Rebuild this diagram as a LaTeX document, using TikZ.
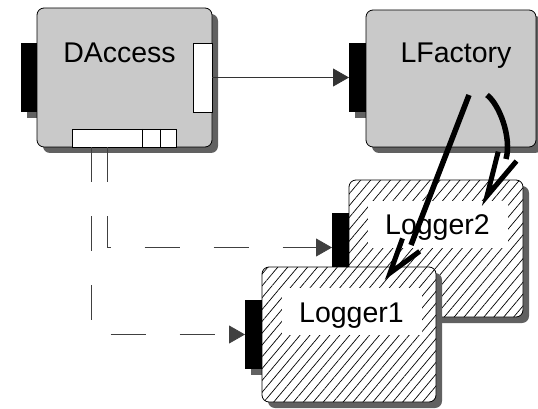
\documentclass[tikz,border=0pt]{standalone}
\usepackage{fontspec}
\setmainfont{Liberation Sans}
\usepackage{tikz}
\usetikzlibrary{positioning, arrows.meta, shadows, patterns.meta, calc}

\begin{document}
\begin{tikzpicture}[
    x=1pt, y=-1pt,
    every node/.style={font=\fontsize{28.5}{32}\selectfont, inner sep=0pt, outer sep=0pt},
    boxshadow/.style={drop shadow={shadow xshift=6pt, shadow yshift=-6pt,
                      fill=black!62, opacity=1}},
    box/.style={draw, line width=0.8pt, rounded corners=7pt, boxshadow,
                minimum width=175pt, minimum height=139pt},
    solid box/.style={box, fill=black!21},
    hatch box/.style={box, preaction={fill=white},
                      pattern={Lines[angle=50, distance=7.6pt, line width=0.7pt]}},
    port/.style={fill=black, boxshadow, minimum width=17pt, minimum height=69pt},
    slot/.style={draw, line width=0.6pt, fill=white},
    tag/.style={fill=white, minimum width=140pt, minimum height=47pt,
                text height=24pt, text depth=3pt},
    arr/.style={-{Triangle[length=16pt, width=18pt]}, line width=0.8pt, black!80},
    dash arr/.style={arr, black!75, dash pattern=on 35pt off 34pt},
    thick arr/.style={line width=5.5pt},
    barb/.style={line width=5pt}
]
\useasboundingbox (0,0) rectangle (538,409);

\node[port] (dacc-in) at (29,77.5) {};
\node[solid box] (dacc) at (124.5,77.5) {};
\node[slot, minimum width=19pt, minimum height=69pt] (dacc-out) at (202.5,77.5) {};
\node[slot, minimum width=104pt, minimum height=18pt] (dacc-bus) at (124,138) {};
\draw[line width=0.6pt] ([xshift=70pt]dacc-bus.north west) -- ([xshift=70pt]dacc-bus.south west)
    ([xshift=88pt]dacc-bus.north west) -- ([xshift=88pt]dacc-bus.south west);
\node[anchor=base] (dacc-name) at (119.5,63) {DAccess};

\node[port] (lfac-in) at (357.5,77.5) {};
\node[solid box, minimum width=170pt, minimum height=137pt] (lfac) at (451,78.5) {};
\node[anchor=base] (lfac-name) at (456,63) {LFactory};

\node[port] (log2-in) at (340.5,247.5) {};
\node[hatch box, minimum width=174pt, minimum height=137pt] (log2) at (436,248.5) {};
\node[tag] (log2-name) at (437.5,224) {Logger2};

\node[port] (log1-in) at (253.5,334.5) {};
\node[hatch box, minimum width=174pt, minimum height=135pt] (log1) at (349,334.5) {};
\node[tag] (log1-name) at (351.5,311.5) {Logger1};

\draw[arr] (dacc-out.east) -- (lfac-in.west);
\draw[dash arr] ([xshift=19pt]dacc-bus.south west) |- (log1-in.west);
\draw[dash arr] ([xshift=35pt]dacc-bus.south west) |- (log2-in.west);

\coordinate (lfac-a) at (469,95);
\coordinate (log1-mouth) at (411,245);
\coordinate (log1-tip) at (390,273);
\draw[thick arr] (lfac-a) -- (log1-mouth);
\draw[barb] ($(log1-tip)!1.05!17:(log1-mouth)$) -- (log1-tip) -- ($(log1-tip)!1.05!-17:(log1-mouth)$);

\coordinate (lfac-b) at (487,95);
\coordinate (log2-mouth) at (506,159);
\coordinate (log2-tip) at (487,196);
\draw[thick arr] (lfac-b) .. controls (499,104) and (512,137) .. (log2-mouth);
\draw[barb] ($(log2-tip)!1.1!13:(log2-mouth)$) -- (log2-tip) -- ($(log2-tip)!1.1!-13:(log2-mouth)$);
\end{tikzpicture}
\end{document}
